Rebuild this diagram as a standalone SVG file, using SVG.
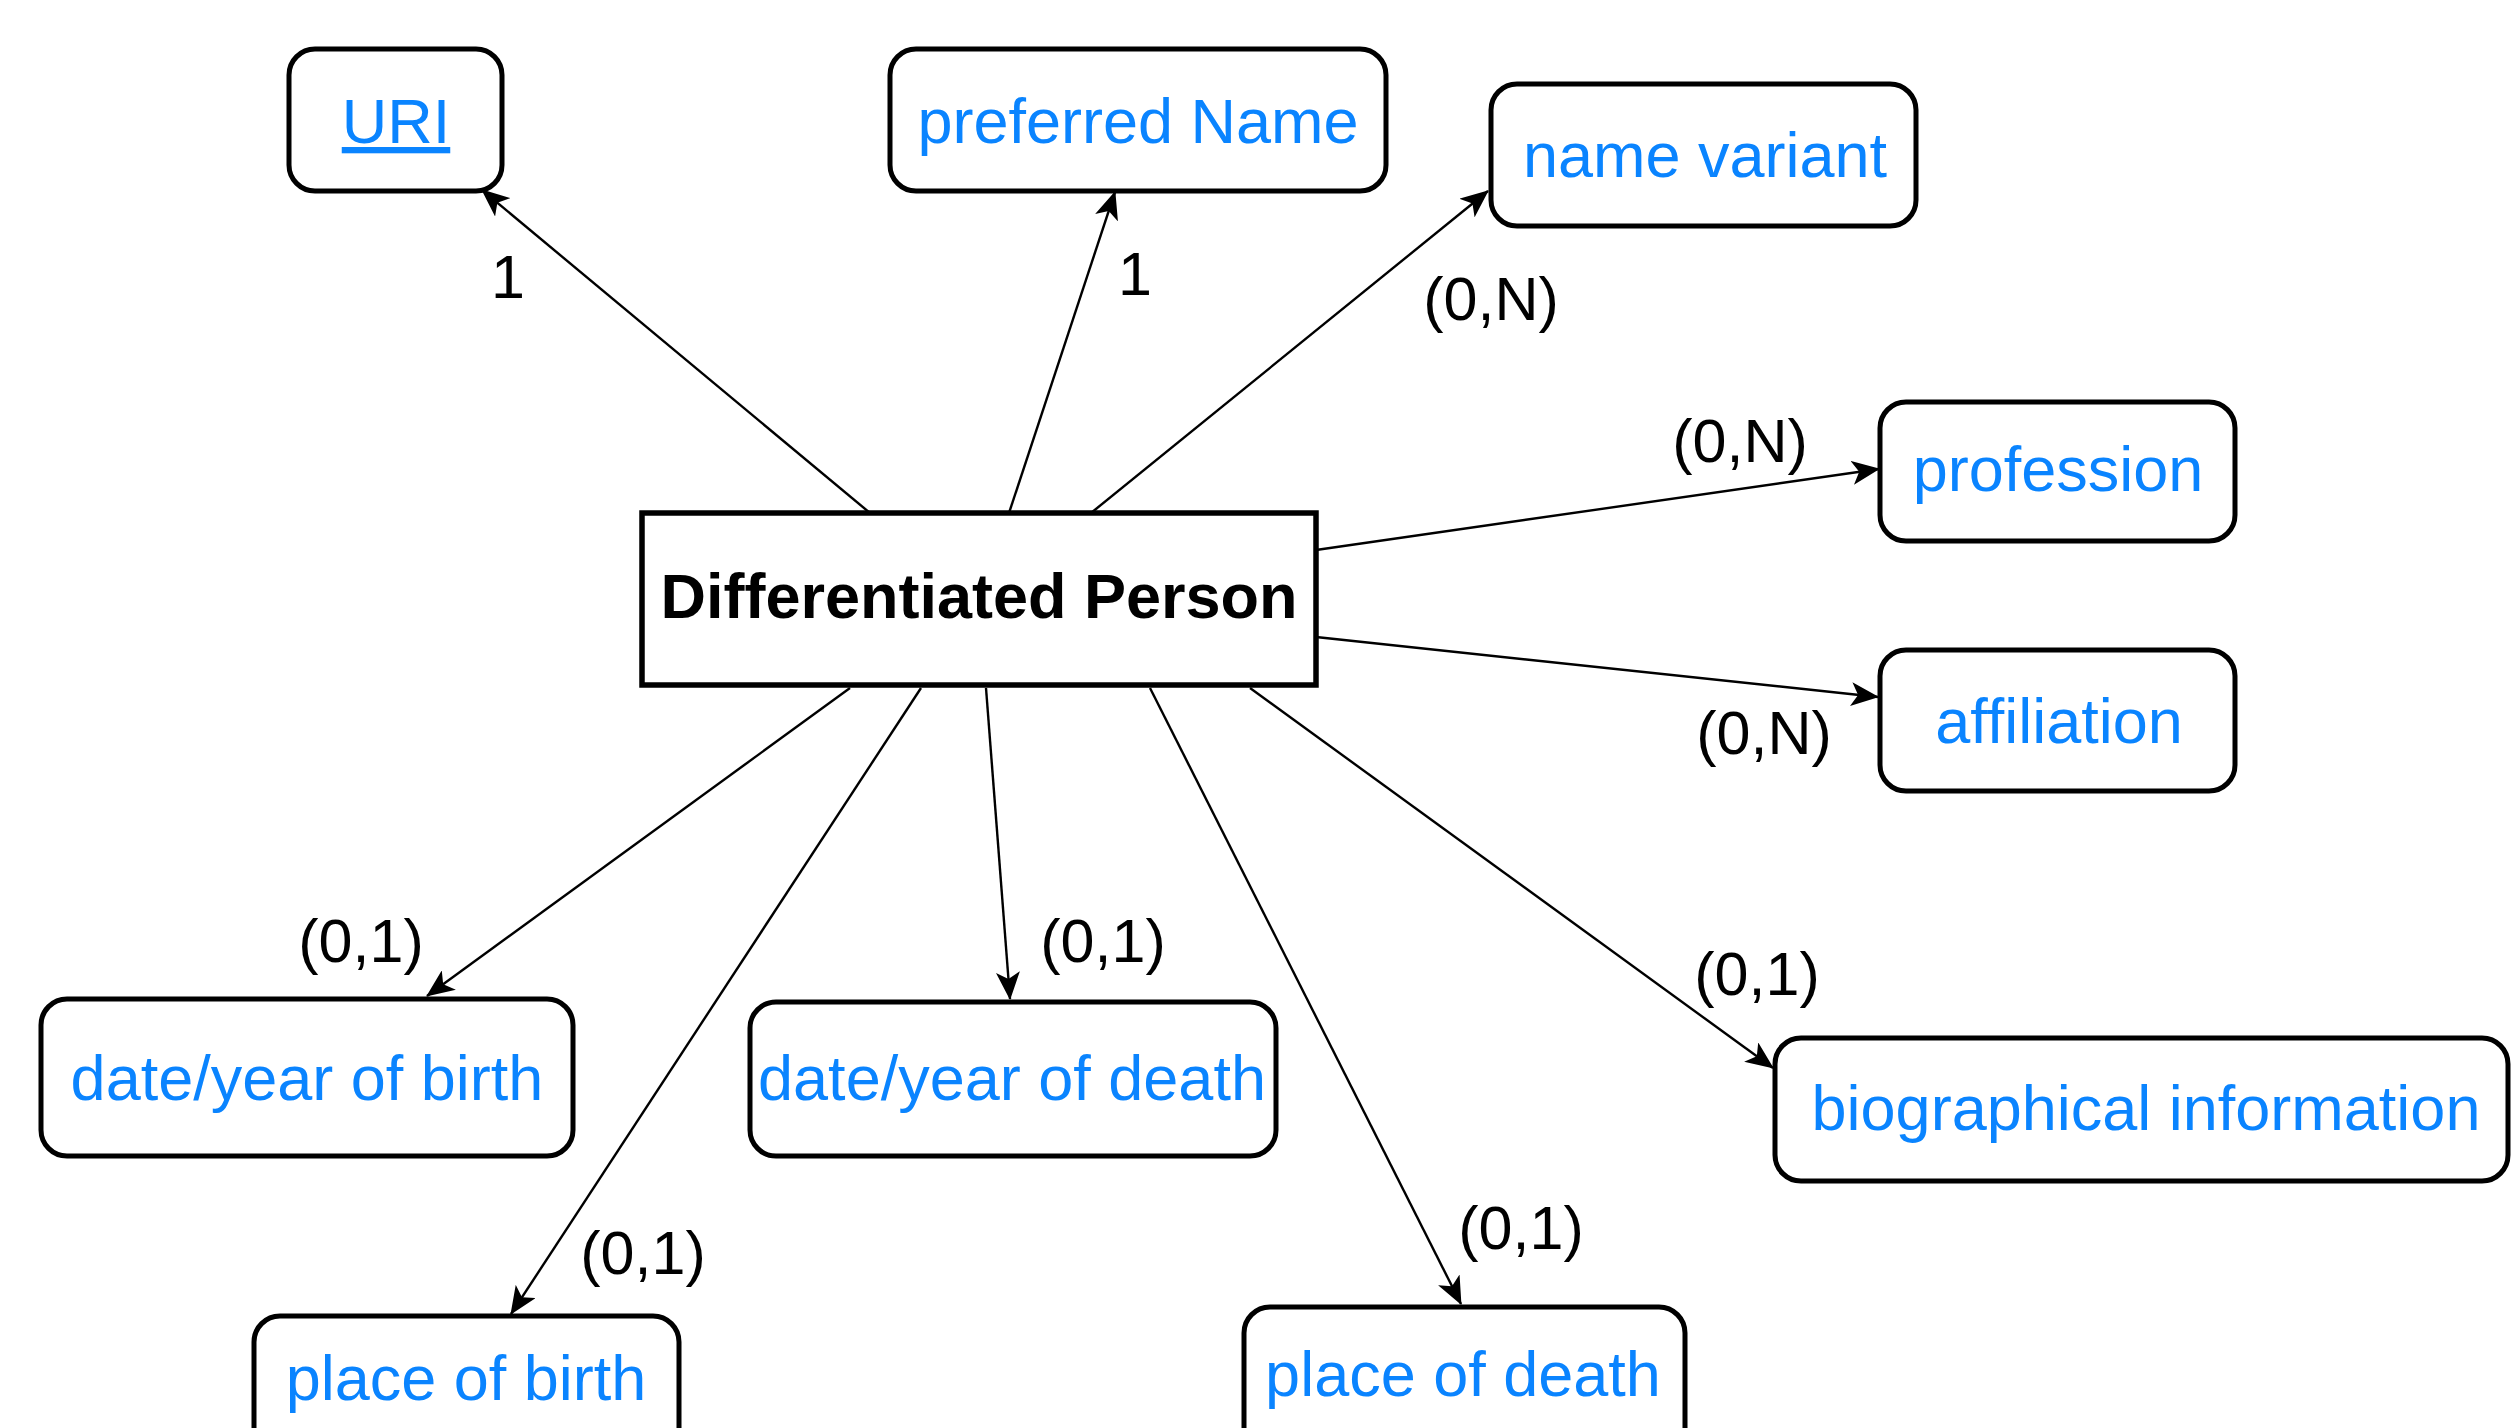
<svg xmlns="http://www.w3.org/2000/svg" width="2511" height="1428" viewBox="0 0 2511 1428">
<defs>
<style>
.attr rect{fill:#fff;stroke:#000;stroke-width:5}
.attr text{font-family:"Liberation Sans",Arial,sans-serif;font-size:63px;fill:#0a84ff;text-anchor:middle}
.main rect{fill:#fff;stroke:#000;stroke-width:5.5}
.main text{font-family:"Liberation Sans",Arial,sans-serif;font-size:63px;font-weight:bold;fill:#000;text-anchor:middle}
.conn line{stroke:#000;stroke-width:2.4;fill:none;marker-end:url(#arr)}
.card{font-family:"Liberation Sans",Arial,sans-serif;font-size:61px;fill:#000;text-anchor:middle}
</style>
<marker id="arr" viewBox="0 0 28 24" refX="27" refY="12" markerWidth="28" markerHeight="24" markerUnits="userSpaceOnUse" orient="auto">
<path d="M0,0 L28,12 L0,24 L7,12 Z" fill="#000"/>
</marker>
</defs>
<rect width="2511" height="1428" fill="#fff"/>
<g id="connectors" class="conn">
<line x1="870" y1="513" x2="482" y2="190"/>
<line x1="1009" y1="513" x2="1115" y2="192"/>
<line x1="1091" y1="513" x2="1488" y2="191"/>
<line x1="1316" y1="550" x2="1879" y2="469"/>
<line x1="1316" y1="637" x2="1878" y2="697"/>
<line x1="1250" y1="688" x2="1773" y2="1068"/>
<line x1="1150" y1="688" x2="1461" y2="1304"/>
<line x1="986" y1="688" x2="1010" y2="999"/>
<line x1="921" y1="688" x2="511" y2="1314"/>
<line x1="850" y1="688" x2="427" y2="996"/>
</g>
<g id="labels">
<text class="card" x="508" y="298">1</text>
<text class="card" x="1135" y="295">1</text>
<text class="card" x="1491" y="320">(0,N)</text>
<text class="card" x="1740" y="462">(0,N)</text>
<text class="card" x="1764" y="754">(0,N)</text>
<text class="card" x="1757" y="995">(0,1)</text>
<text class="card" x="1521" y="1249">(0,1)</text>
<text class="card" x="361" y="962">(0,1)</text>
<text class="card" x="1103" y="962">(0,1)</text>
<text class="card" x="643" y="1274">(0,1)</text>
</g>
<g id="node-main" class="main">
<rect x="642" y="513" width="674" height="172"/>
<text x="979" y="618">Differentiated Person</text>
</g>
<g id="node-uri" class="attr">
<rect x="289" y="49" width="213" height="142" rx="26"/>
<text x="396" y="143" text-decoration="underline">URI</text>
</g>
<g id="node-preferred-name" class="attr">
<rect x="890" y="49" width="496" height="142" rx="26"/>
<text x="1138" y="143">preferred Name</text>
</g>
<g id="node-name-variant" class="attr">
<rect x="1491" y="84" width="425" height="142" rx="26"/>
<text x="1705" y="177">name variant</text>
</g>
<g id="node-profession" class="attr">
<rect x="1880" y="402" width="355" height="139" rx="26"/>
<text x="2058" y="491">profession</text>
</g>
<g id="node-affiliation" class="attr">
<rect x="1880" y="650" width="355" height="141" rx="26"/>
<text x="2059" y="743">affiliation</text>
</g>
<g id="node-biographical-information" class="attr">
<rect x="1775" y="1038" width="733" height="143" rx="26"/>
<text x="2146" y="1130">biographical information</text>
</g>
<g id="node-date-birth" class="attr">
<rect x="41" y="999" width="532" height="157" rx="26"/>
<text x="307" y="1100">date/year of birth</text>
</g>
<g id="node-date-death" class="attr">
<rect x="750" y="1002" width="526" height="154" rx="26"/>
<text x="1012" y="1100">date/year of death</text>
</g>
<g id="node-place-birth" class="attr">
<rect x="254" y="1316" width="425" height="150" rx="26"/>
<text x="466" y="1400">place of birth</text>
</g>
<g id="node-place-death" class="attr">
<rect x="1244" y="1307" width="441" height="150" rx="26"/>
<text x="1463" y="1396">place of death</text>
</g>
</svg>
